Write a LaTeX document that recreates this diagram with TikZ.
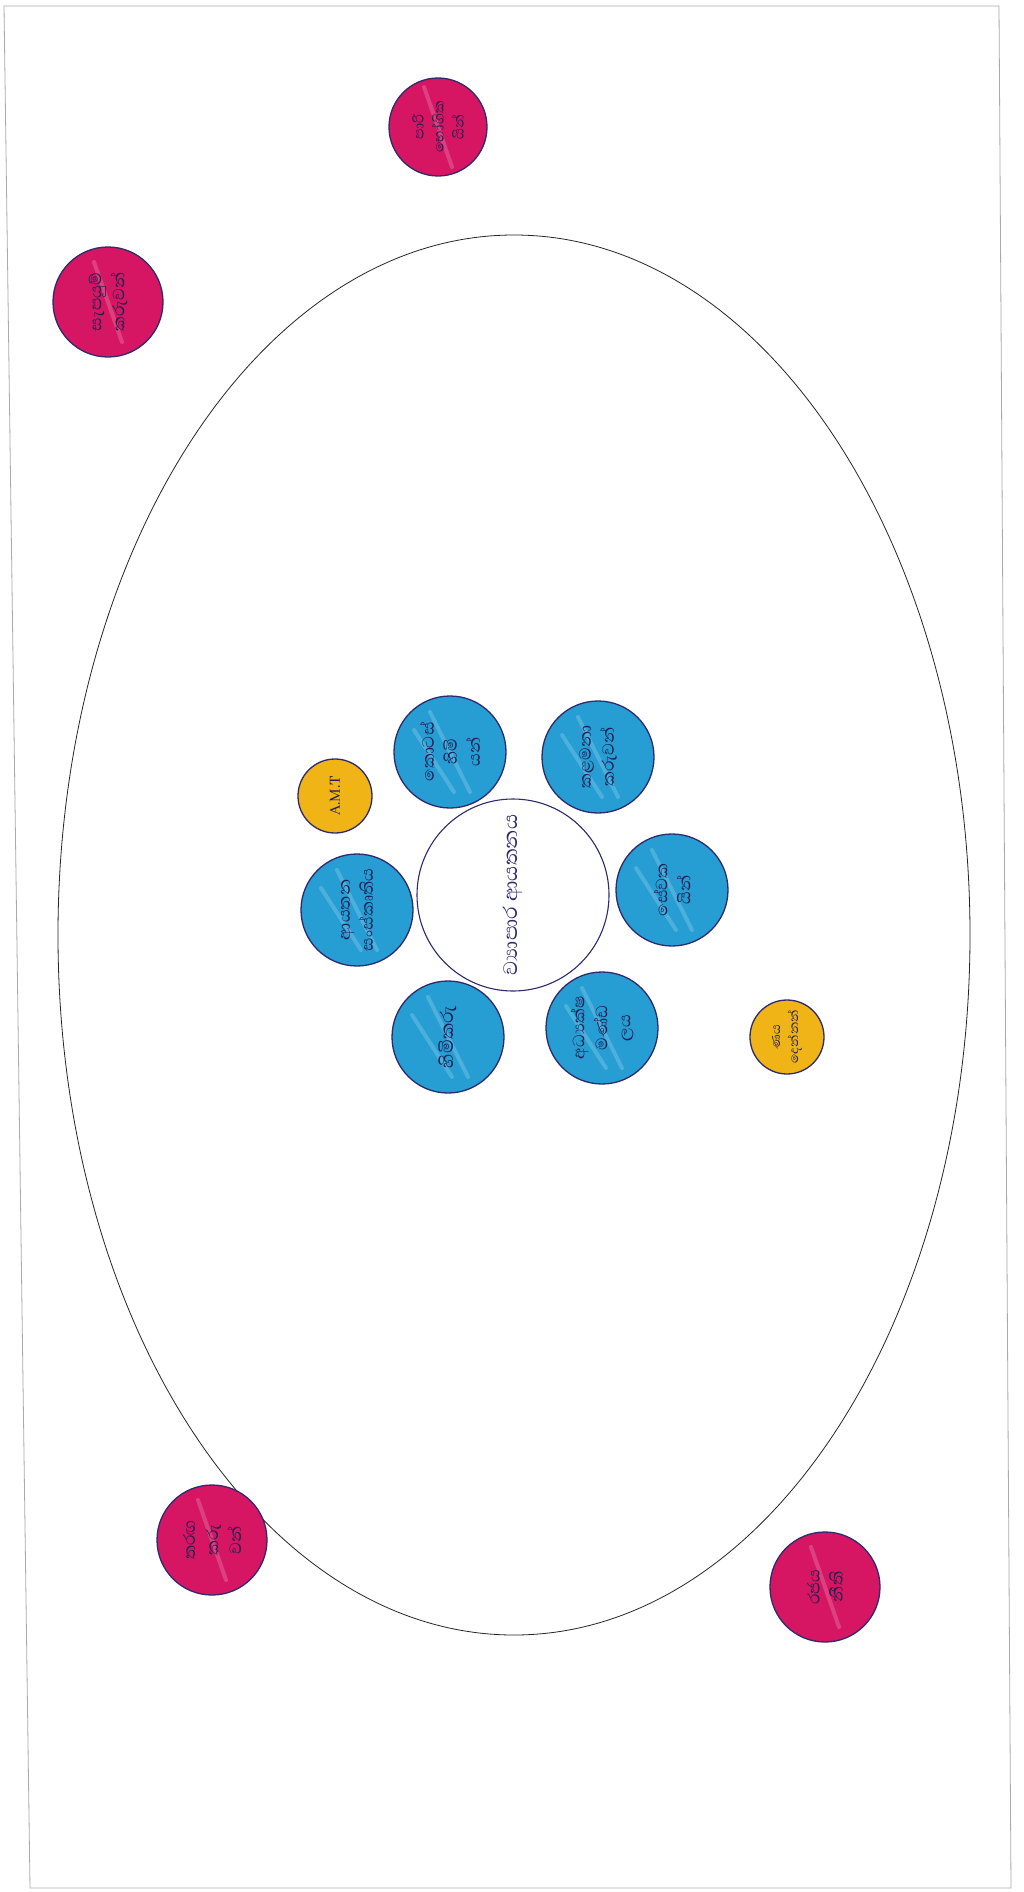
\documentclass[tikz,border=0pt]{standalone}
\usepackage{fontspec}
\usetikzlibrary{shapes.geometric}
\newfontfamily\sinhalafont[Script=Sinhala]{Abhaya Libre}
\definecolor{ink}{RGB}{45,42,110}
\definecolor{penink}{RGB}{30,30,80}
\definecolor{bluefill}{RGB}{38,158,212}
\definecolor{pinkfill}{RGB}{214,22,98}
\definecolor{yellowfill}{RGB}{240,180,22}
\definecolor{framecol}{RGB}{170,170,170}
\tikzset{
  disc/.style={circle, draw=ink, line width=1.3pt, inner sep=0pt},
  bluec/.style={disc, fill=bluefill, minimum size=112pt},
  pinkc/.style={disc, fill=pinkfill, minimum size=110pt},
  yellowc/.style={disc, fill=yellowfill, minimum size=74pt},
  centrec/.style={disc, fill=white, line width=1.1pt, minimum size=192pt},
  lbl/.style={rotate=90, align=center, text=penink, font=\sinhalafont\fontsize{21}{23}\selectfont, inner sep=0pt},
  streak/.style={white, opacity=0.18, line width=4pt, line cap=round}
}
\begin{document}
\begin{tikzpicture}[x=1pt,y=-1pt]
\useasboundingbox (0,0) rectangle (1024,1892);
\fill[white] (0,0) rectangle (1024,1892);
% page frame of the scan
\draw[framecol, line width=0.8pt] (4,6) -- (999,6) -- (1011,1888) -- (30,1888) -- cycle;
% environment ellipse
\node[draw=black!85, line width=0.8pt, ellipse, minimum width=912pt, minimum height=1400pt, inner sep=0pt] (env) at (514,935) {};
% centre
\node[centrec] (org) at (513,895) {};
\node[lbl, text=ink, font=\sinhalafont\fontsize{25}{27}\selectfont] (orgt) at (org) {ව්‍යාපාර ආයතනය};
% blue circles
\node[bluec] (b1) at (450,752) {};
\node[bluec] (b2) at (598,757) {};
\node[bluec] (b3) at (672,890) {};
\node[bluec] (b4) at (602,1028) {};
\node[bluec] (b5) at (448,1037) {};
\node[bluec] (b6) at (357,910) {};
\foreach \n in {b1,b2,b3,b4,b5,b6}{
  \draw[streak] ([shift={(-20,-40)}]\n.center) -- ([shift={(20,40)}]\n.center);
  \draw[streak] ([shift={(-36,-22)}]\n.center) -- ([shift={(4,40)}]\n.center);
}
\node[lbl] (b1t) at (b1) {කොටස්\\හිමි\\යන්};
\node[lbl] (b2t) at (b2) {කළමනා\\කරුවන්};
\node[lbl] (b3t) at (b3) {සේවක\\යින්};
\node[lbl] (b4t) at (b4) {අධ්‍යක්ෂ\\මණ්ඩ\\ලය};
\node[lbl, font=\sinhalafont\fontsize{23}{25}\selectfont] (b5t) at (b5) {හිමිකරු};
\node[lbl] (b6t) at (b6) {ආයතන\\සංස්කෘතිය};
% yellow circles
\node[yellowc] (y1) at (335,796) {};
\node[yellowc] (y2) at (787,1037) {};
\node[lbl, font=\sinhalafont\fontsize{17}{19}\selectfont] (y1t) at (y1) {A.M.T};
\node[lbl, font=\sinhalafont\fontsize{16}{18}\selectfont] (y2t) at (y2) {ණය\\දෙන්නන්};
% pink circles
\node[pinkc, minimum size=98pt] (p1) at (438,127) {};
\node[pinkc] (p2) at (108,302) {};
\node[pinkc] (p3) at (212,1540) {};
\node[pinkc] (p4) at (825,1587) {};
\foreach \n in {p1,p2,p3,p4}{
  \draw[streak] ([shift={(-14,-40)}]\n.center) -- ([shift={(14,40)}]\n.center);
}
\node[lbl, font=\sinhalafont\fontsize{18}{20}\selectfont] (p1t) at (p1) {පාරි\\භෝගික\\යින්};
\node[lbl] (p2t) at (p2) {සැපයුම්\\කරුවන්};
\node[lbl] (p3t) at (p3) {තරඟ\\කරු\\වන්};
\node[lbl] (p4t) at (p4) {රජය\\නීති};
\end{tikzpicture}
\end{document}
